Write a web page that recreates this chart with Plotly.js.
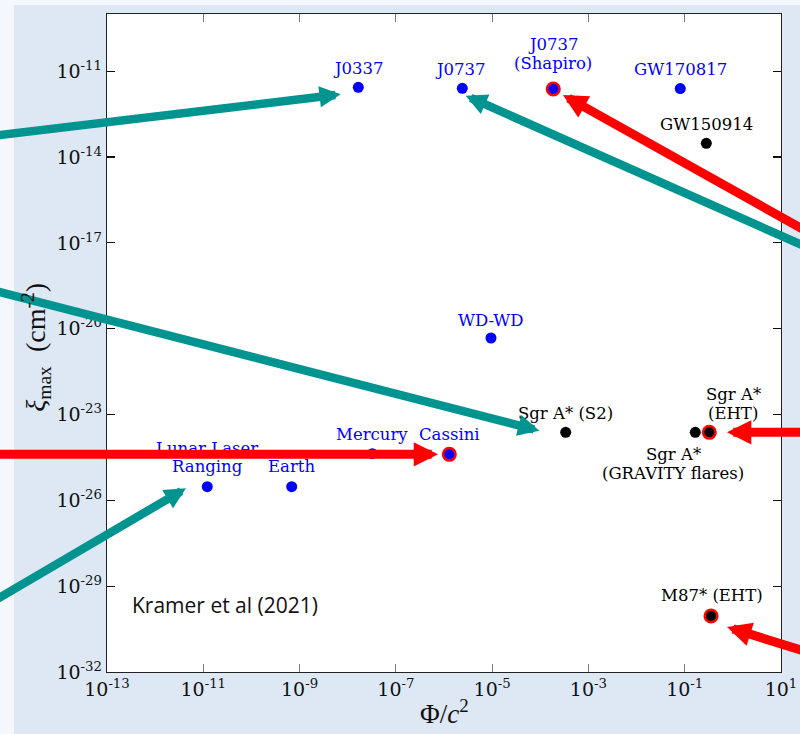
<!DOCTYPE html>
<html>
<head>
<meta charset="utf-8">
<script src="https://cdn.plot.ly/plotly-3.0.1.min.js"></script>
<style>
  html, body { margin: 0; padding: 0; background: #f4f7fc; width: 800px; height: 734px; overflow: hidden; }
  #panel { position: absolute; left: 14px; top: 5px; width: 786px; height: 729px; background: #dde8f4; }
  #chart { position: absolute; left: 0; top: 0; width: 800px; height: 734px; }
</style>
</head>
<body>
<div id="panel"></div>
<div id="chart"></div>
<script>
// Experiments probing gravity: potential Phi/c^2 vs. curvature xi_max (cm^-2)
const names = ['J0337', 'J0737', 'J0737\n(Shapiro)', 'GW170817', 'GW150914', 'WD-WD',
  'Sgr A* (S2)', 'Sgr A*\n(GRAVITY flares)', 'Sgr A*\n(EHT)', 'Mercury', 'Cassini',
  'Lunar Laser\nRanging', 'Earth', 'M87* (EHT)'];
const phi = [1.66e-8, 2.40e-6, 1.86e-4, 8.09e-2, 0.281, 9.46e-6,
  3.37e-4, 0.166, 0.324, 3.24e-8, 1.29e-6,
  1.21e-11, 6.86e-10, 0.352];
const xi = [2.74e-12, 2.53e-12, 2.39e-12, 2.47e-12, 3.02e-14, 4.73e-21,
  2.39e-24, 2.39e-24, 2.39e-24, 4.28e-25, 4.07e-25,
  3.00e-26, 3.00e-26, 9.08e-31];
// 'blue' = weak-field / binary tests, 'black' = black-hole environments
const family = ['blue', 'blue', 'blue', 'blue', 'black', 'blue',
  'black', 'black', 'black', 'blue', 'blue',
  'blue', 'blue', 'black'];
// tests highlighted with a red ring
const highlighted = ['J0737\n(Shapiro)', 'Cassini', 'Sgr A*\n(EHT)', 'M87* (EHT)'];

const xTickVals = [1e-13, 1e-11, 1e-9, 1e-7, 1e-5, 1e-3, 1e-1, 1e1];
const xTickText = ['10<sup>-13</sup>', '10<sup>-11</sup>', '10<sup>-9</sup>', '10<sup>-7</sup>',
  '10<sup>-5</sup>', '10<sup>-3</sup>', '10<sup>-1</sup>', '10<sup>1</sup>'];
const yTickVals = [1e-32, 1e-29, 1e-26, 1e-23, 1e-20, 1e-17, 1e-14, 1e-11];
const yTickText = ['10<sup>-32</sup>', '10<sup>-29</sup>', '10<sup>-26</sup>', '10<sup>-23</sup>',
  '10<sup>-20</sup>', '10<sup>-17</sup>', '10<sup>-14</sup>', '10<sup>-11</sup>'];

// ---- styling ----
const BLUE = '#0000ff', BLACK = '#000000', RED = '#ff0000', TEAL = '#009490';
const serif = 'DejaVu Serif, serif';
const LABEL_SIZE = 16.5, LINE_GAP = 18.5;

// label block offsets in px (right, up) from each point
const labelShift = {
  'J0337': [0, 18.5], 'J0737': [-1.5, 19], 'J0737\n(Shapiro)': [0, 35], 'GW170817': [0, 19.5],
  'GW150914': [0, 19], 'WD-WD': [0, 18], 'Sgr A* (S2)': [0, 19],
  'Sgr A*\n(GRAVITY flares)': [-22, -31.5], 'Sgr A*\n(EHT)': [24, 28.5],
  'Mercury': [0, 19], 'Cassini': [0, 19.5], 'Lunar Laser\nRanging': [0, 29],
  'Earth': [0, 20], 'M87* (EHT)': [1, 20]
};

// pointer arrows: target, colour, tip shift (px right, px up), tail offset from tip (px right, px down)
const pointers = [
  { to: 'J0337', color: TEAL, tip: [-17.6, -7], tail: [-351, 42] },
  { to: 'J0737', color: TEAL, tip: [3.4, -7.4], tail: [344, 150] },
  { to: 'Sgr A* (S2)', color: TEAL, tip: [-26.4, 1.6], tail: [-549, -141] },
  { to: 'Lunar Laser\nRanging', color: TEAL, tip: [-21.3, -1.6], tail: [-196, 115] },
  { to: 'J0737\n(Shapiro)', color: RED, tip: [9.7, -6], tail: [247, 138] },
  { to: 'Cassini', color: RED, tip: [-11.3, 0], tail: [-448, 0] },
  { to: 'Sgr A*\n(EHT)', color: RED, tip: [17.7, 0], tail: [83, 0] },
  { to: 'M87* (EHT)', color: RED, tip: [16, -11], tail: [83, 26] }
];

function pick(fam, ringed) {
  const idx = names.map((n, i) => i).filter(i =>
    family[i] === fam && highlighted.includes(names[i]) === ringed);
  return { x: idx.map(i => phi[i]), y: idx.map(i => xi[i]) };
}

const traces = [];
[['blue', BLUE], ['black', BLACK]].forEach(([fam, col]) => {
  const plain = pick(fam, false);
  traces.push({
    type: 'scatter', mode: 'markers', x: plain.x, y: plain.y, hoverinfo: 'skip',
    marker: { color: col, size: 11, opacity: 1, line: { width: 0 } }, cliponaxis: false
  });
  const ring = pick(fam, true);
  traces.push({
    type: 'scatter', mode: 'markers', x: ring.x, y: ring.y, hoverinfo: 'skip',
    marker: { color: col, size: 12.5, opacity: 1, line: { width: 2.6, color: RED } }, cliponaxis: false
  });
});

const annotations = [];
names.forEach((n, i) => {
  const s = labelShift[n];
  const lines = n.split('\n');
  lines.forEach((line, k) => {
    annotations.push({
      x: Math.log10(phi[i]), y: Math.log10(xi[i]), xref: 'x', yref: 'y',
      text: line, showarrow: false, xanchor: 'center', yanchor: 'middle',
      xshift: s[0], yshift: s[1] + ((lines.length - 1) / 2 - k) * LINE_GAP,
      font: { family: serif, size: LABEL_SIZE, color: family[i] === 'blue' ? BLUE : BLACK }
    });
  });
});
pointers.forEach(p => {
  const i = names.indexOf(p.to);
  const red = p.color === RED;
  annotations.push({
    x: Math.log10(phi[i]), y: Math.log10(xi[i]), xref: 'x', yref: 'y',
    text: '', showarrow: true, axref: 'pixel', ayref: 'pixel',
    xshift: p.tip[0], yshift: p.tip[1], ax: p.tail[0], ay: p.tail[1],
    arrowhead: 2, arrowsize: red ? 0.54 : 0.5, arrowwidth: red ? 9 : 8.5,
    arrowcolor: p.color, standoff: 0
  });
});
annotations.push({
  xref: 'paper', yref: 'paper', x: 0.034, y: 0.102, xanchor: 'left', yanchor: 'middle',
  text: 'Kramer et al (2021)', showarrow: false,
  font: { family: 'Open Sans, sans-serif', size: 21, color: '#111' }
});
// axis titles
annotations.push({
  xref: 'paper', yref: 'paper', x: 0.5, y: -0.061, xanchor: 'center', yanchor: 'middle',
  text: 'Φ/<i>c</i><sup>2</sup>', showarrow: false,
  font: { family: 'Liberation Serif, serif', size: 27, color: '#111' }
});
annotations.push({
  xref: 'paper', yref: 'paper', x: -0.105, y: 0.493, xanchor: 'center', yanchor: 'middle',
  text: '<i>ξ</i><sub>max</sub>  (cm<sup>-2</sup>)', showarrow: false, textangle: -90,
  font: { family: 'Liberation Serif, serif', size: 28, color: '#111' }
});

const layout = {
  width: 800, height: 734,
  margin: { l: 107, r: 19, t: 14, b: 62 },
  paper_bgcolor: 'rgba(0,0,0,0)', plot_bgcolor: '#ffffff',
  showlegend: false,
  xaxis: {
    type: 'log', range: [-13, 1], tickmode: 'array', tickvals: xTickVals, ticktext: xTickText,
    ticks: 'inside', ticklen: 8, tickwidth: 1.2, tickcolor: '#777',
    showline: true, linecolor: '#222', linewidth: 1.2, mirror: 'ticks',
    showgrid: false, zeroline: false,
    tickfont: { family: serif, size: 19, color: '#111' }
  },
  yaxis: {
    type: 'log', range: [-32, -9], tickmode: 'array', tickvals: yTickVals, ticktext: yTickText,
    ticks: 'inside', ticklen: 8, tickwidth: 1.2, tickcolor: '#111',
    showline: true, linecolor: '#222', linewidth: 1.2, mirror: 'ticks',
    showgrid: false, zeroline: false,
    tickfont: { family: serif, size: 19, color: '#111' }
  },
  annotations: annotations
};

Plotly.newPlot('chart', traces, layout, { staticPlot: true, displayModeBar: false });
</script>
</body>
</html>
